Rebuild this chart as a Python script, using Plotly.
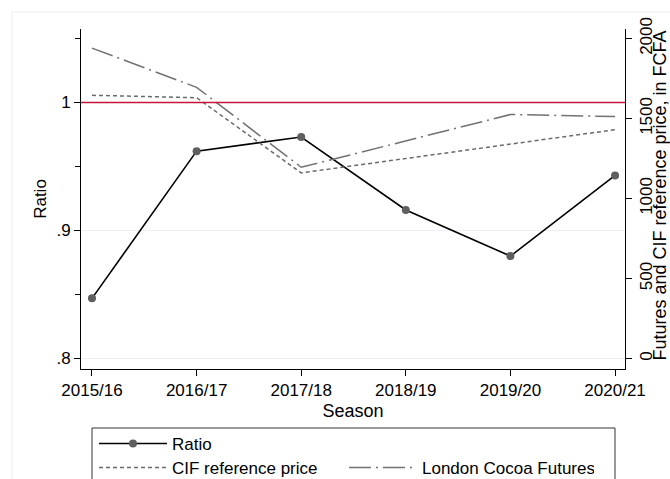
import plotly.graph_objects as go

# Season data
seasons = ["2015/16", "2016/17", "2017/18", "2018/19", "2019/20", "2020/21"]
ratio = [0.847, 0.962, 0.973, 0.916, 0.880, 0.943]
cif_price = [1645, 1630, 1160, 1250, 1340, 1430]
london_futures = [1940, 1695, 1195, 1360, 1525, 1512]

ratio_ticks = [0.8, 0.9, 1.0]
ratio_ticktext = [".8", ".9", "1"]
price_ticks = [0, 500, 1000, 1500, 2000]

W, H = 670, 479
PL, PR, PT, PB = 81, 625, 29, 369   # plot area in pixels
PW, PH = PR - PL, PB - PT


def px(xp):
    return (xp - PL) / PW


def py(yp):
    return (PB - yp) / PH


FONT = "Arial, Liberation Sans, sans-serif"

fig = go.Figure()
fig.add_trace(go.Scatter(
    x=seasons, y=ratio, name="Ratio", mode="lines+markers",
    line=dict(color="black", width=1.6),
    marker=dict(color="#5f5f5f", size=8),
    legend="legend", showlegend=True,
))
fig.add_trace(go.Scatter(
    x=seasons, y=cif_price, name="CIF reference price", mode="lines",
    yaxis="y2", line=dict(color="#6a6a6a", width=1.5, dash="4px,3px"),
    legend="legend2", showlegend=True,
))
fig.add_trace(go.Scatter(
    x=seasons, y=london_futures, name="London Cocoa Futures", mode="lines",
    yaxis="y2", line=dict(color="#727272", width=1.5, dash="22px,5px,2px,5px"),
    legend="legend2", showlegend=True,
))

# reference line at ratio = 1
fig.add_hline(y=1, line=dict(color="#c4163c", width=1.5), layer="above")

# legend frame
fig.add_shape(type="rect", xref="paper", yref="paper",
              x0=px(92), x1=px(615), y0=py(428), y1=py(495),
              line=dict(color="#333333", width=1))
# faint outer frame
fig.add_shape(type="rect", xref="paper", yref="paper",
              x0=px(12), x1=px(700), y0=py(12), y1=py(520),
              line=dict(color="#eeeeee", width=1))

# right-hand axis title
fig.add_annotation(text="Futures and CIF reference price, in FCFA",
                   xref="paper", yref="paper", x=px(659.5), y=py(196),
                   xanchor="center", yanchor="middle", textangle=-90,
                   borderpad=0, showarrow=False,
                   font=dict(size=18, color="black"))

axis_common = dict(showline=True, linecolor="black", linewidth=1,
                   ticks="outside", ticklen=6, tickcolor="black",
                   zeroline=False, tickfont=dict(size=17, color="black"))

fig.update_layout(
    width=W, height=H, autosize=False, showlegend=True,
    margin=dict(l=PL, r=W - PR, t=PT, b=H - PB, autoexpand=False),
    paper_bgcolor="white", plot_bgcolor="white",
    font=dict(family=FONT, color="black", size=17),
    xaxis=dict(type="category", range=[-0.105, 5.095], showgrid=False,
               title=dict(text="Season", font=dict(size=18), standoff=4),
               **axis_common),
    yaxis=dict(range=[0.8 - 10.5 / 1280, 0.8 + 329.5 / 1280],
               tickmode="array", tickvals=ratio_ticks, ticktext=ratio_ticktext,
               showgrid=True, gridcolor="#eaf2f3", gridwidth=1,
               minor=dict(tickmode="linear", tick0=0.8, dtick=0.05,
                          ticks="outside", ticklen=5, tickcolor="black",
                          showgrid=False),
               title=dict(text="Ratio", font=dict(size=17), standoff=5),
               **axis_common),
    yaxis2=dict(overlaying="y", side="right",
                range=[-10.5 * 6.25, 329.5 * 6.25],
                tickmode="array", tickvals=price_ticks, tickangle=-90,
                showgrid=False,
                **axis_common),
    legend=dict(x=px(94), y=py(444), xanchor="left", yanchor="middle",
                bgcolor="rgba(0,0,0,0)", borderwidth=0, itemwidth=68,
                font=dict(size=17), tracegroupgap=0),
    legend2=dict(x=px(94), y=py(468), xanchor="left", yanchor="middle",
                 orientation="h", bgcolor="rgba(0,0,0,0)", borderwidth=0,
                 itemwidth=68, entrywidth=167, entrywidthmode="pixels",
                 font=dict(size=17), tracegroupgap=0),
)

fig.write_html("out.html")
